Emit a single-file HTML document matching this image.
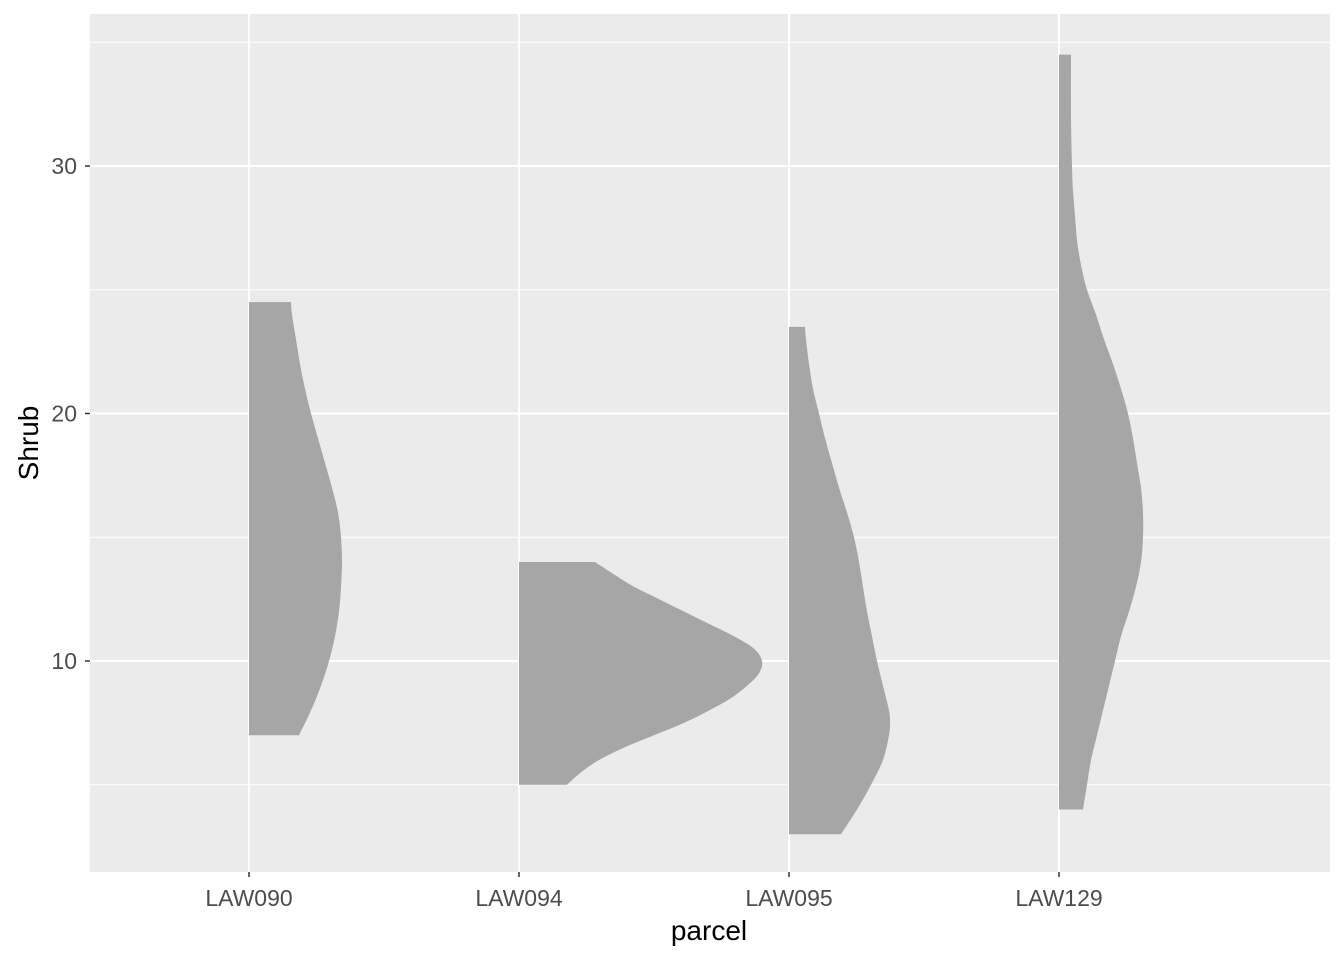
<!DOCTYPE html>
<html><head><meta charset="utf-8"><style>
body{margin:0;background:#fff;}
svg text{font-family:"Liberation Sans",Arial,sans-serif;}
</style></head><body>
<svg id="c" width="1344" height="960" xmlns="http://www.w3.org/2000/svg">
<rect x="90" y="14" width="1240" height="858" fill="#ebebeb"/>
<g id="grid"></g><g id="marks"></g><g id="axes"></g>
<text x="709" y="940" font-size="28" text-anchor="middle" fill="#000">parcel</text>
<text transform="translate(38,443) rotate(-90)" font-size="28" text-anchor="middle" fill="#000">Shrub</text>
</svg>
<script>
const categories=["LAW090","LAW094","LAW095","LAW129"];
const yTicks=[10,20,30];
const yMinor=[5,15,25,35];
const law090=[[7,50],[8,62],[9,72],[10,80],[11,86],[12,90],[13,92],[14,93],[15,92],[16,89],[17,83],[18,76],[19,69],[20,62],[21,56],[22,51],[23,47],[24,43],[24.5,42]];
const law094=[[5,48],[5.5,62],[6,80],[6.5,105],[7,135],[7.5,165],[8,190],[8.5,212],[9,228],[9.5,240],[10,243],[10.5,235],[11,215],[11.5,190],[12,165],[12.5,140],[13,115],[13.5,95],[14,76]];
const law095=[[3,52],[4,68],[5,82],[6,94],[7,100],[7.5,101],[8,100],[9,94],[10,88],[11,83],[12,78],[13,74],[14,70],[15,65],[16,58],[17,50],[18,43],[19,36],[20,30],[21,24],[22,20],[23,17],[23.5,16]];
const law129=[[4,24],[5,28],[6,32],[7,38],[8,44],[9,50],[10,56],[11,62],[12,70],[13,77],[14,82],[15,84],[16,84],[17,82],[18,78],[19,74],[20,69],[21,62],[22,54],[23,45],[24,37],[25,28],[26,22],[27,18],[28,16],[29,14],[30,13],[32,12],[34.5,12]];
const series=[law090,law094,law095,law129];
const NS="http://www.w3.org/2000/svg";
function y(v){return 661-(v-10)*24.75;}
function x(i){return 249+i*270;}
function w(d){return d;}
const grid=document.getElementById('grid'),marks=document.getElementById('marks'),axes=document.getElementById('axes');
function ln(g,x1,y1,x2,y2,sw,col,name){const l=document.createElementNS(NS,'line');l.setAttribute('x1',x1);l.setAttribute('y1',y1);l.setAttribute('x2',x2);l.setAttribute('y2',y2);l.setAttribute('stroke',col);l.setAttribute('stroke-width',sw);


g.appendChild(l);return l;}
function tx(g,xx,yy,s,anchor,name){const t=document.createElementNS(NS,'text');t.setAttribute('x',xx);t.setAttribute('y',yy);t.setAttribute('font-size','23');t.setAttribute('fill','#4d4d4d');t.setAttribute('text-anchor',anchor);t.textContent=s;


g.appendChild(t);}
yMinor.forEach(v=>ln(grid,90,y(v),1330,y(v),1,'#fff','y-minor-gridline'));
yTicks.forEach(v=>{ln(grid,90,y(v),1330,y(v),2,'#fff','y-major-gridline');ln(axes,85,y(v),90,y(v),1.5,'#333','y-tick');tx(axes,77,y(v)+8,String(v),'end','y-tick-label');});
categories.forEach((c,i)=>{ln(grid,x(i),14,x(i),872,2,'#fff','x-gridline');ln(axes,x(i),872,x(i),877,1.5,'#333','x-tick');tx(axes,x(i),906,c,'middle','x-tick-label');});
series.forEach((s,i)=>{
 const pts=s.map(p=>[x(i)+w(p[1]),y(p[0])]);
 let d='M'+x(i)+','+pts[0][1]+' L'+pts[0][0]+','+pts[0][1];
 for(let k=0;k<pts.length-1;k++){
  const p0=pts[Math.max(k-1,0)],p1=pts[k],p2=pts[k+1],p3=pts[Math.min(k+2,pts.length-1)];
  const c1=[p1[0]+(p2[0]-p0[0])/6,p1[1]+(p2[1]-p0[1])/6],c2=[p2[0]-(p3[0]-p1[0])/6,p2[1]-(p3[1]-p1[1])/6];
  d+=' C'+c1[0]+','+c1[1]+' '+c2[0]+','+c2[1]+' '+p2[0]+','+p2[1];
 }
 d+=' L'+x(i)+','+pts[pts.length-1][1]+' Z';
 const p=document.createElementNS(NS,'path');p.setAttribute('d',d);p.setAttribute('fill','#a6a6a6');
 
 
 marks.appendChild(p);
});
</script>
</body></html>
